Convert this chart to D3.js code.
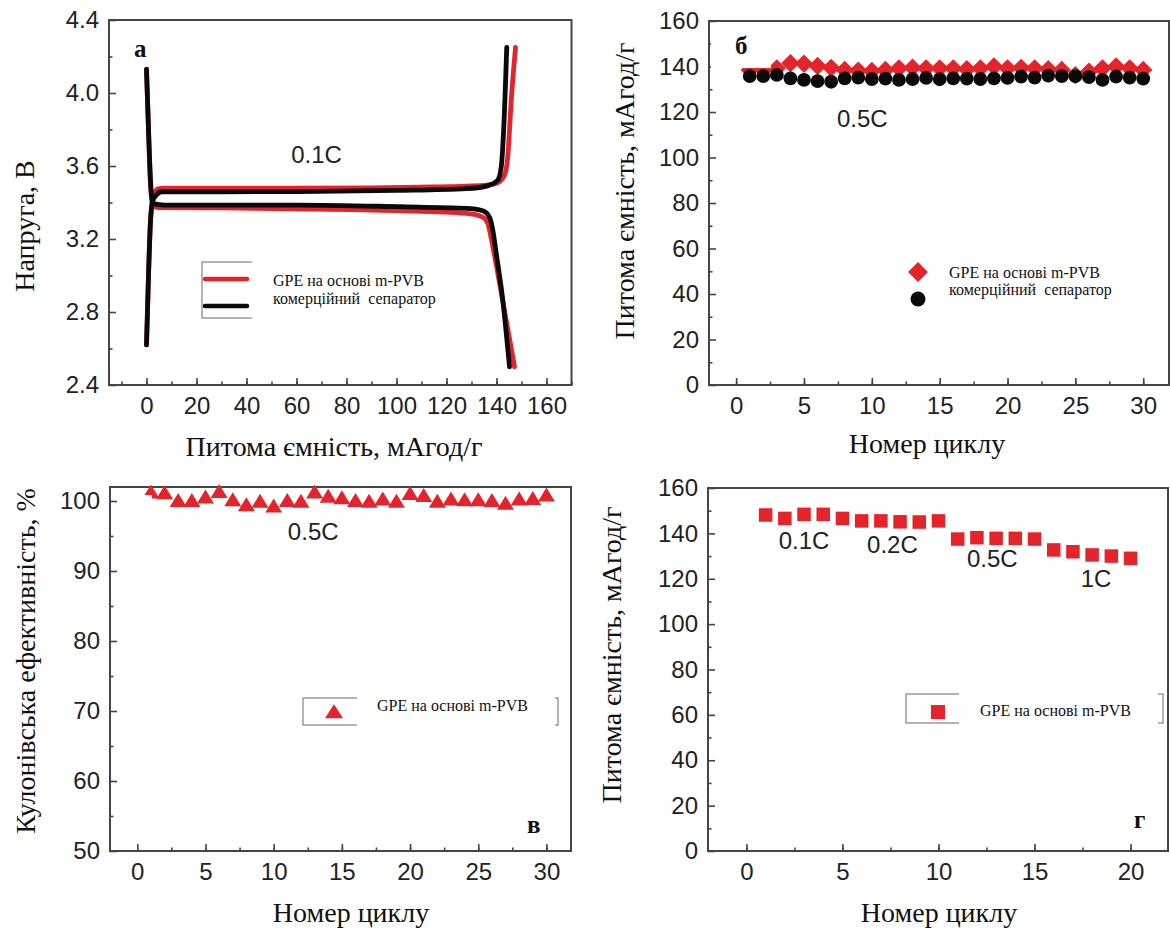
<!DOCTYPE html>
<html>
<head>
<meta charset="utf-8">
<script src="https://cdn.jsdelivr.net/npm/d3@7"></script>
<style>
  html, body { margin: 0; padding: 0; background: #fff; }
  svg { display: block; }
  .tick text { font-family: "Liberation Sans", Arial, sans-serif; font-size: 24px; fill: #222; }
  .tick line { stroke: #444; stroke-width: 1.6; }
  .title { font-family: "Liberation Serif", "Times New Roman", serif; font-size: 28px; fill: #111; }
  .legend { font-family: "Liberation Serif", "Times New Roman", serif; font-size: 16px; fill: #111; white-space: pre; }
  .rate { font-family: "Liberation Sans", Arial, sans-serif; font-size: 24px; fill: #222; }
  .letter { font-family: "Liberation Serif", "Times New Roman", serif; font-size: 25px; font-weight: bold; fill: #111; }
</style>
</head>
<body>
<svg id="fig" width="1170" height="934"></svg>
<script>
// ---- Panel а: charge/discharge profiles at 0.1C, [capacity mAh/g, voltage V]
const chargeGPE = [[0, 2.62], [0.8, 3.0], [1.6, 3.3], [2.6, 3.42], [4.5, 3.475], [7, 3.478], [30, 3.478], [60, 3.478],
  [90, 3.48], [115, 3.485], [128, 3.49], [136, 3.495], [140, 3.505], [143.2, 3.55], [144.5, 3.65], [145.9, 3.96], [147.6, 4.25]];
const dischargeGPE = [[0, 4.13], [0.8, 3.8], [1.6, 3.5], [2.6, 3.38], [5, 3.372], [30, 3.37], [60, 3.365], [100, 3.355],
  [128, 3.34], [134.5, 3.32], [136.5, 3.286], [138.5, 3.16], [141.2, 2.96], [147.2, 2.5]];
const chargeSep = [[0, 2.62], [0.8, 3.0], [1.6, 3.3], [2.5, 3.41], [3.9, 3.44], [5.9, 3.459], [30, 3.459], [61, 3.46],
  [100, 3.466], [128, 3.476], [136, 3.49], [140.5, 3.523], [141.9, 3.596], [142.8, 3.78], [144.1, 4.25]];
const dischargeSep = [[0, 4.13], [0.8, 3.8], [1.6, 3.52], [2.5, 3.395], [7.3, 3.386], [61, 3.386], [101, 3.377],
  [128, 3.368], [134.5, 3.355], [137.2, 3.32], [138.5, 3.25], [139.9, 3.12], [142.5, 2.866], [145.2, 2.5]];
const voltageTicks = [2.4, 2.8, 3.2, 3.6, 4.0, 4.4];
const capacityXTicks = [0, 20, 40, 60, 80, 100, 120, 140, 160];

// ---- Panel б: cycling at 0.5C
const cycles30 = d3.range(1, 31);
const capGPE05 = [138.5, 138.3, 139.2, 141.4, 141.2, 140.2, 139.4, 138.5, 138.2, 138.0, 138.5, 139.2, 139.5, 139.2, 139.2,
  139.2, 138.8, 139.2, 140.0, 139.2, 139.4, 139.2, 138.8, 138.5, 136.2, 137.7, 139.2, 140.0, 139.2, 138.5];
const capSep05 = [135.8, 135.8, 136.3, 134.8, 134.1, 133.6, 133.3, 134.8, 135.1, 134.5, 134.7, 134.1, 134.5, 135.0, 134.4,
  134.8, 134.7, 134.5, 134.8, 135.0, 135.6, 135.1, 136.0, 135.8, 135.8, 135.3, 134.1, 135.6, 135.1, 134.7];
const capacityYTicks = [0, 20, 40, 60, 80, 100, 120, 140, 160];
const cycleTicks30 = [0, 5, 10, 15, 20, 25, 30];

// ---- Panel в: coulombic efficiency, %
const efficiency = [101.1, 101.0, 99.9, 99.9, 100.4, 101.2, 100.0, 99.3, 99.8, 99.1, 99.9, 99.8, 101.1, 100.5, 100.3,
  99.9, 99.8, 100.1, 99.8, 100.9, 100.6, 99.8, 100.1, 100.0, 100.0, 99.9, 99.5, 100.1, 100.2, 100.7];
const efficiencyTicks = [50, 60, 70, 80, 90, 100];

// ---- Panel г: rate capability
const cycles20 = d3.range(1, 21);
const rateCap = [148.1, 146.6, 148.4, 148.4, 146.6, 145.5, 145.5, 145.1, 145.0, 145.5,
  137.5, 138.1, 137.8, 137.8, 137.5, 132.7, 131.9, 130.5, 130.0, 129.0];
const rateLabels = [{ text: "0.1C", cycle: 3, value: 133 }, { text: "0.2C", cycle: 7.6, value: 131.5 },
  { text: "0.5C", cycle: 12.8, value: 125 }, { text: "1C", cycle: 18.2, value: 116.5 }];
const cycleTicks20 = [0, 5, 10, 15, 20];

const RED = "#e5232b";
const BLACK = "#0a0a0a";
const svg = d3.select("#fig");

// Frame with inward major/minor ticks on the left and bottom
function panel(box, xDom, yDom, ax) {
  const x = d3.scaleLinear().domain(xDom).range([box.l, box.r]);
  const y = d3.scaleLinear().domain(yDom).range([box.b, box.t]);
  const g = svg.append("g");
  const strip = s => s.select(".domain").remove();
  g.append("g").attr("transform", `translate(0,${box.b})`)
    .call(d3.axisBottom(x).tickValues(ax.xMinor).tickSize(-3.5).tickFormat("")).call(strip);
  g.append("g").attr("transform", `translate(0,${box.b})`)
    .call(d3.axisBottom(x).tickValues(ax.xMajor).tickSize(-7).tickPadding(12).tickFormat(ax.xFmt || d3.format("d"))).call(strip);
  g.append("g").attr("transform", `translate(${box.l},0)`)
    .call(d3.axisLeft(y).tickValues(ax.yMinor).tickSize(-3.5).tickFormat("")).call(strip);
  g.append("g").attr("transform", `translate(${box.l},0)`)
    .call(d3.axisLeft(y).tickValues(ax.yMajor).tickSize(-7).tickPadding(10).tickFormat(ax.yFmt || d3.format("d"))).call(strip);
  g.append("rect").attr("x", box.l).attr("y", box.t).attr("width", box.r - box.l).attr("height", box.b - box.t)
    .attr("fill", "none").attr("stroke", "#454545").attr("stroke-width", 2);
  return { g, x, y };
}

function yTitle(text, cx, cy) {
  svg.append("text").attr("class", "title").attr("text-anchor", "middle")
    .attr("transform", `translate(${cx},${cy}) rotate(-90)`).text(text);
}
function xTitle(text, cx, by) {
  svg.append("text").attr("class", "title").attr("text-anchor", "middle").attr("x", cx).attr("y", by).text(text);
}
const diamond = s => d3.symbol().type(d3.symbolSquare).size(s * s)();
const triangle = (w, h) => `M0,${-h * 0.62}L${w / 2},${h * 0.38}L${-w / 2},${h * 0.38}Z`;

// ================= Panel а =================
{
  const { g, x, y } = panel({ l: 109, r: 571.5, t: 20, b: 385 }, [-15, 170], [2.4, 4.4], {
    xMajor: capacityXTicks, xMinor: d3.range(-10, 171, 10),
    yMajor: voltageTicks, yMinor: d3.range(2.6, 4.4, 0.4), yFmt: d3.format(".1f")
  });
  const line = d3.line().x(d => x(d[0])).y(d => y(d[1])).curve(d3.curveMonotoneX);
  const curves = [[chargeGPE, RED], [dischargeGPE, RED], [chargeSep, BLACK], [dischargeSep, BLACK]];
  curves.forEach(([data, color]) => {
    g.append("path").datum(data).attr("d", line).attr("fill", "none")
      .attr("stroke", color).attr("stroke-width", 4.8).attr("stroke-linejoin", "round").attr("stroke-linecap", "round");
  });
  svg.append("text").attr("class", "letter").attr("x", 134).attr("y", 57).text("а");
  svg.append("text").attr("class", "rate").attr("text-anchor", "middle").attr("x", x(68)).attr("y", 163).text("0.1C");
  // legend
  svg.append("path").attr("d", "M252,262H202V318H252").attr("fill", "none").attr("stroke", "#9a9a9a").attr("stroke-width", 1.5);
  svg.append("line").attr("x1", 205).attr("x2", 247).attr("y1", 279).attr("y2", 279).attr("stroke", RED).attr("stroke-width", 4.5).attr("stroke-linecap", "round");
  svg.append("line").attr("x1", 205).attr("x2", 247).attr("y1", 306).attr("y2", 306).attr("stroke", BLACK).attr("stroke-width", 4.5).attr("stroke-linecap", "round");
  svg.append("text").attr("class", "legend").attr("x", 273).attr("y", 286).text("GPE на основі m-PVB");
  svg.append("text").attr("class", "legend").attr("x", 273).attr("y", 304).text("комерційний  сепаратор");
  yTitle("Напруга, В", 34, 226);
  xTitle("Питома ємність, мАгод/г", 334, 456);
}

// ================= Panel б =================
{
  const { g, x, y } = panel({ l: 709, r: 1169, t: 21, b: 385 }, [-2, 31.9], [0, 160], {
    xMajor: cycleTicks30, xMinor: d3.range(0, 31, 2.5),
    yMajor: capacityYTicks, yMinor: d3.range(10, 160, 20)
  });
  g.selectAll(".dia").data(cycles30).join("path").attr("class", "dia")
    .attr("d", diamond(13)).attr("fill", RED)
    .attr("transform", (c, i) => `translate(${x(c)},${y(capGPE05[i])}) rotate(45)`);
  g.selectAll(".dot").data(cycles30).join("circle").attr("class", "dot")
    .attr("cx", c => x(c)).attr("cy", (c, i) => y(capSep05[i])).attr("r", 6.9).attr("fill", BLACK);
  svg.append("rect").attr("x", 711).attr("y", 23).attr("width", 60).attr("height", 45).attr("fill", "#fff");
  svg.append("text").attr("class", "letter").attr("x", 735).attr("y", 54).text("б");
  svg.append("text").attr("class", "rate").attr("text-anchor", "middle").attr("x", x(9.3)).attr("y", 127).text("0.5C");
  // legend
  svg.append("path").attr("d", diamond(14)).attr("fill", RED).attr("transform", "translate(918,272) rotate(45)");
  svg.append("circle").attr("cx", 918).attr("cy", 299).attr("r", 7.5).attr("fill", BLACK);
  svg.append("text").attr("class", "legend").attr("x", 949).attr("y", 278).text("GPE на основі m-PVB");
  svg.append("text").attr("class", "legend").attr("x", 949).attr("y", 295).text("комерційний  сепаратор");
  yTitle("Питома ємність, мАгод/г", 634, 191);
  xTitle("Номер циклу", 927, 453);
}

// ================= Panel в =================
{
  const { g, x, y } = panel({ l: 110, r: 571, t: 487, b: 851 }, [-2, 31.8], [50, 102], {
    xMajor: cycleTicks30, xMinor: d3.range(0, 31, 2.5),
    yMajor: efficiencyTicks, yMinor: d3.range(55, 101, 10)
  });
  g.selectAll(".tri").data(cycles30).join("path").attr("class", "tri")
    .attr("d", triangle(17, 14)).attr("fill", RED)
    .attr("transform", (c, i) => `translate(${x(c)},${y(efficiency[i])})`);
  svg.append("rect").attr("x", 118).attr("y", 495).attr("width", 34).attr("height", 38).attr("fill", "#fff");
  svg.append("text").attr("class", "letter").attr("x", 527).attr("y", 833).text("в");
  svg.append("text").attr("class", "rate").attr("text-anchor", "middle").attr("x", x(12.9)).attr("y", 540).text("0.5C");
  // legend
  svg.append("path").attr("d", "M357,698H303V725H357M555,698H558V725H555").attr("fill", "none").attr("stroke", "#9a9a9a").attr("stroke-width", 1.5);
  svg.append("path").attr("d", triangle(18, 14)).attr("fill", RED).attr("transform", "translate(334,713)");
  svg.append("text").attr("class", "legend").attr("x", 377).attr("y", 711).text("GPE на основі m-PVB");
  yTitle("Кулонівська ефективність, %", 35, 661);
  xTitle("Номер циклу", 351, 922);
}

// ================= Panel г =================
{
  const { g, x, y } = panel({ l: 708, r: 1168, t: 488, b: 851 }, [-2, 21.95], [0, 160], {
    xMajor: cycleTicks20, xMinor: d3.range(0, 21, 2.5),
    yMajor: capacityYTicks, yMinor: d3.range(10, 160, 20)
  });
  g.selectAll(".sq").data(cycles20).join("rect").attr("class", "sq")
    .attr("x", c => x(c) - 6.75).attr("y", (c, i) => y(rateCap[i]) - 6.75)
    .attr("width", 13.5).attr("height", 13.5).attr("fill", RED);
  g.selectAll(".rl").data(rateLabels).join("text").attr("class", "rate").attr("text-anchor", "middle")
    .attr("x", d => x(d.cycle)).attr("y", d => y(d.value)).text(d => d.text);
  svg.append("text").attr("class", "letter").attr("x", 1134).attr("y", 828).text("г");
  // legend
  svg.append("path").attr("d", "M959,694H906V723H959M1158,694H1163V723H1158").attr("fill", "none").attr("stroke", "#9a9a9a").attr("stroke-width", 1.5);
  svg.append("rect").attr("x", 931).attr("y", 705).attr("width", 14).attr("height", 14).attr("fill", RED);
  svg.append("text").attr("class", "legend").attr("x", 980).attr("y", 716).text("GPE на основі m-PVB");
  yTitle("Питома ємність, мАгод/г", 621, 655);
  xTitle("Номер циклу", 939, 922);
}
</script>
</body>
</html>
